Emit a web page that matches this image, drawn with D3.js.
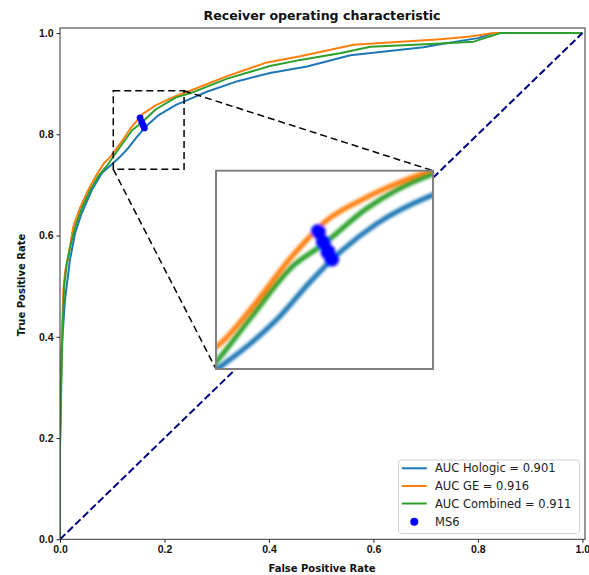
<!DOCTYPE html>
<html>
<head>
<meta charset="utf-8">
<script src="https://cdn.jsdelivr.net/npm/d3@7"></script>
<style>
  html, body { margin: 0; padding: 0; background: #fff; }
  svg { display: block; font-family: "DejaVu Sans", sans-serif; }
</style>
</head>
<body>
<svg id="chart" width="589" height="575"></svg>
<script>
// ROC curves: [false positive rate, true positive rate]
const rocHologic = [
  [0,0],[0,0.18],[0.002,0.27],[0.003,0.374],[0.0096,0.473],[0.019,0.552],[0.029,0.605],
  [0.0415,0.644],[0.061,0.69],[0.080,0.723],[0.086,0.729],[0.095,0.737],[0.1115,0.752],
  [0.13,0.772],[0.148,0.796],[0.167,0.818],[0.189,0.838],[0.222,0.858],[0.236,0.864],
  [0.281,0.884],[0.34,0.905],[0.402,0.921],[0.473,0.934],[0.556,0.956],[0.696,0.972],
  [0.728,0.978],[0.80,0.99],[0.83,1.0],[1,1]
];
const rocGE = [
  [0,0],[0,0.19],[0.002,0.31],[0.004,0.41],[0.0064,0.493],[0.010,0.53],[0.016,0.558],
  [0.0255,0.618],[0.038,0.654],[0.054,0.69],[0.070,0.72],[0.085,0.744],[0.095,0.754],
  [0.112,0.777],[0.136,0.813],[0.158,0.840],[0.183,0.857],[0.222,0.876],[0.249,0.886],
  [0.32,0.915],[0.396,0.942],[0.46,0.954],[0.562,0.977],[0.728,0.988],[0.785,0.993],
  [0.83,1.0],[1,1]
];
const rocCombined = [
  [0,0],[0,0.2],[0.002,0.30],[0.005,0.42],[0.008,0.50],[0.013,0.545],[0.02,0.58],
  [0.03,0.62],[0.042,0.655],[0.058,0.69],[0.075,0.72],[0.09,0.738],[0.1115,0.770],
  [0.138,0.808],[0.156,0.823],[0.183,0.849],[0.222,0.873],[0.249,0.881],[0.32,0.91],
  [0.402,0.935],[0.46,0.947],[0.536,0.960],[0.594,0.973],[0.70,0.978],[0.792,0.983],
  [0.843,1.0],[1,1]
];
// MS6 operating points
const ms6Points = [[0.1533,0.8325],[0.1564,0.8246],[0.1592,0.8179],[0.1615,0.8127]];
// chance line
const chanceLine = [[0,0],[1,1]];

const seriesNames = ["AUC Hologic = 0.901", "AUC GE = 0.916", "AUC Combined = 0.911"];
const pointsName = "MS6";
const tickValues = [0, 0.2, 0.4, 0.6, 0.8, 1.0];

// zoomed window shown in the inset, and the marked region on the main axes
const insetXDomain = [0.0907, 0.2235];
const insetYDomain = [0.734, 0.876];
const markXDomain = [0.102, 0.2375];
const markYDomain = [0.731, 0.886];

const colors = ["#1f77b4", "#ff7f0e", "#2ca02c"];
const series = [rocHologic, rocGE, rocCombined];

const svg = d3.select("#chart");
const plot = { left: 60, right: 585, top: 28, bottom: 539.3 };

const x = d3.scaleLinear().domain([0, 1.005]).range([plot.left, plot.right]);
const y = d3.scaleLinear().domain([0, 1.01]).range([plot.bottom, plot.top]);

const defs = svg.append("defs");
defs.append("clipPath").attr("id", "plotClip")
  .append("rect").attr("x", plot.left).attr("y", plot.top)
  .attr("width", plot.right - plot.left).attr("height", plot.bottom - plot.top);

const blur = defs.append("filter").attr("id", "soft")
  .attr("x", "-10%").attr("y", "-10%").attr("width", "120%").attr("height", "120%");
blur.append("feGaussianBlur").attr("stdDeviation", 1.4);

// main plot
const main = svg.append("g").attr("clip-path", "url(#plotClip)");
const line = d3.line().x(d => x(d[0])).y(d => y(d[1]));

series.forEach((s, i) => {
  main.append("path").datum(s).attr("d", line)
    .attr("fill", "none").attr("stroke", colors[i]).attr("stroke-width", 2)
    .attr("stroke-linejoin", "round");
});

main.append("path").datum(chanceLine).attr("d", line)
  .attr("fill", "none").attr("stroke", "#000080").attr("stroke-width", 2)
  .attr("stroke-dasharray", "7.4,3.2");

main.selectAll("circle.ms6").data(ms6Points).join("circle")
  .attr("class", "ms6")
  .attr("cx", d => x(d[0])).attr("cy", d => y(d[1])).attr("r", 3.4)
  .attr("fill", "#0000ff");

// axes
const xAxis = d3.axisBottom(x).tickValues(tickValues).tickFormat(d3.format(".1f"))
  .tickSizeOuter(0).tickSize(3.5).tickPadding(3);
const yAxis = d3.axisLeft(y).tickValues(tickValues).tickFormat(d3.format(".1f"))
  .tickSizeOuter(0).tickSize(3.5).tickPadding(3);

const gx = svg.append("g").attr("transform", `translate(0,${plot.bottom})`).call(xAxis);
const gy = svg.append("g").attr("transform", `translate(${plot.left},0)`).call(yAxis);
[gx, gy].forEach(g => {
  g.select(".domain").remove();
  g.selectAll("line").attr("stroke", "#222");
  g.selectAll("text").attr("font-size", 10.5).attr("font-weight", "bold").attr("fill", "#111");
});

// frame
svg.append("rect")
  .attr("x", plot.left).attr("y", plot.top)
  .attr("width", plot.right - plot.left).attr("height", plot.bottom - plot.top)
  .attr("fill", "none").attr("stroke", "#333").attr("stroke-width", 1);

// labels
svg.append("text").attr("x", 322).attr("y", 20).attr("text-anchor", "middle")
  .attr("font-size", 12.6).attr("font-weight", "bold").attr("fill", "#111")
  .text("Receiver operating characteristic");
svg.append("text").attr("x", 322).attr("y", 572).attr("text-anchor", "middle")
  .attr("font-size", 10).attr("font-weight", "bold").attr("fill", "#111")
  .text("False Positive Rate");
svg.append("text").attr("transform", "translate(25,285) rotate(-90)").attr("text-anchor", "middle")
  .attr("font-size", 10).attr("font-weight", "bold").attr("fill", "#111")
  .text("True Positive Rate");

// inset box on the page
const inset = { left: 216, right: 433, top: 170.7, bottom: 369 };
const ix = d3.scaleLinear().domain(insetXDomain).range([inset.left, inset.right]);
const iy = d3.scaleLinear().domain(insetYDomain).range([inset.bottom, inset.top]);

// marked region and connectors
const mark = svg.append("g").attr("fill", "none").attr("stroke", "#000")
  .attr("stroke-width", 1.5).attr("stroke-dasharray", "7,4");
mark.append("rect")
  .attr("x", x(markXDomain[0])).attr("y", y(markYDomain[1]))
  .attr("width", x(markXDomain[1]) - x(markXDomain[0]))
  .attr("height", y(markYDomain[0]) - y(markYDomain[1]));
mark.append("line")
  .attr("x1", x(markXDomain[0])).attr("y1", y(markYDomain[0]))
  .attr("x2", inset.left).attr("y2", inset.bottom);
mark.append("line")
  .attr("x1", x(markXDomain[1])).attr("y1", y(markYDomain[1]))
  .attr("x2", inset.right).attr("y2", inset.top);

// inset axes
defs.append("clipPath").attr("id", "insetClip")
  .append("rect").attr("x", inset.left).attr("y", inset.top)
  .attr("width", inset.right - inset.left).attr("height", inset.bottom - inset.top);

svg.append("rect").attr("x", inset.left).attr("y", inset.top)
  .attr("width", inset.right - inset.left).attr("height", inset.bottom - inset.top)
  .attr("fill", "#fff");

const insetG = svg.append("g").attr("clip-path", "url(#insetClip)")
  .append("g").attr("filter", "url(#soft)");
const iline = d3.line().curve(d3.curveMonotoneX).x(d => ix(d[0])).y(d => iy(d[1]));
series.forEach((s, i) => {
  insetG.append("path").datum(s).attr("d", iline)
    .attr("fill", "none").attr("stroke", colors[i]).attr("stroke-width", 5)
    .attr("stroke-linejoin", "round");
});
insetG.selectAll("circle").data(ms6Points).join("circle")
  .attr("cx", d => ix(d[0])).attr("cy", d => iy(d[1])).attr("r", 7.5)
  .attr("fill", "#0000ff");

svg.append("rect").attr("x", inset.left).attr("y", inset.top)
  .attr("width", inset.right - inset.left).attr("height", inset.bottom - inset.top)
  .attr("fill", "none").attr("stroke", "#808080").attr("stroke-width", 2);

// legend
const lg = svg.append("g").attr("transform", "translate(398.5,460)");
lg.append("rect").attr("width", 181).attr("height", 73.5).attr("rx", 3)
  .attr("fill", "#fff").attr("fill-opacity", 0.85)
  .attr("stroke", "#d0d0d0").attr("stroke-width", 1);
const rowY = [8.3, 26, 43.5, 61.7];
seriesNames.forEach((name, i) => {
  lg.append("line").attr("x1", 3.3).attr("x2", 28.3).attr("y1", rowY[i]).attr("y2", rowY[i])
    .attr("stroke", colors[i]).attr("stroke-width", 2);
  lg.append("text").attr("x", 36.5).attr("y", rowY[i] + 4).attr("font-size", 11.5)
    .attr("fill", "#222").text(name);
});
lg.append("circle").attr("cx", 15.8).attr("cy", rowY[3]).attr("r", 4).attr("fill", "#0000ff");
lg.append("text").attr("x", 36.5).attr("y", rowY[3] + 4).attr("font-size", 11.5)
  .attr("fill", "#222").text(pointsName);
</script>
</body>
</html>
